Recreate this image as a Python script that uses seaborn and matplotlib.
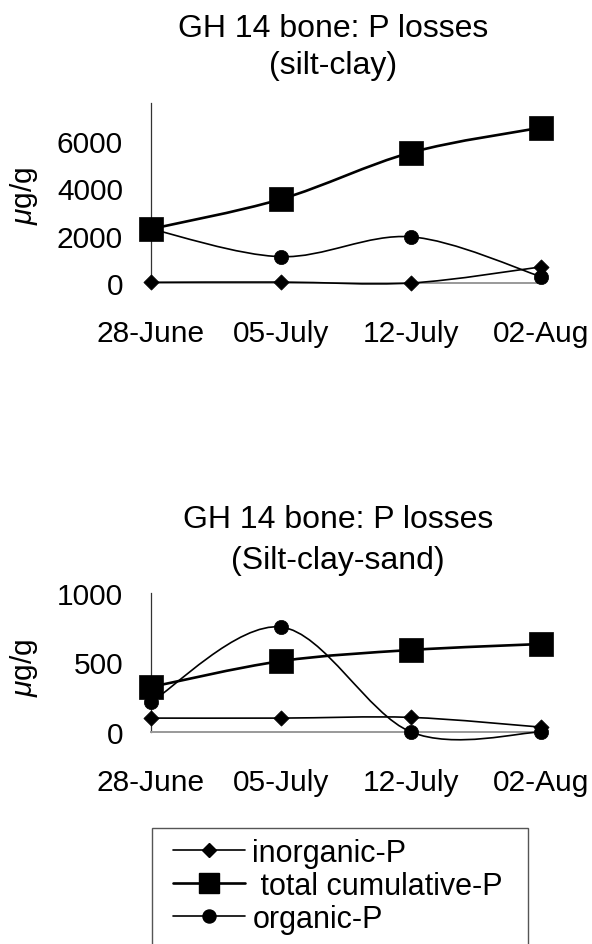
import numpy as np
import matplotlib
matplotlib.use("Agg")
import matplotlib.pyplot as plt
from matplotlib.path import Path
from matplotlib.patches import PathPatch, Rectangle
from matplotlib.lines import Line2D
import seaborn as sns

# ---------------- data ----------------
dates = ["28-June", "05-July", "12-July", "02-Aug"]
series_names = ["inorganic-P", " total cumulative-P", "organic-P"]

top_inorganic = [30, 40, 0, 680]
top_total = [2280, 3540, 5510, 6560]
top_organic = [2280, 1110, 1950, 270]

bot_inorganic = [100, 100, 105, 35]
bot_total = [324, 510, 590, 633]
bot_organic = [216, 755, 0, 0]

top_title = ["GH 14 bone: P losses", "(silt-clay)"]
bot_title = ["GH 14 bone: P losses", "(Silt-clay-sand)"]
top_yticks = [0, 2000, 4000, 6000]
bot_yticks = [0, 500, 1000]

# ---------------- style ----------------
sns.set_style("white")
plt.rcParams["font.family"] = ["Liberation Sans", "DejaVu Sans"]
plt.rcParams["mathtext.fontset"] = "custom"
plt.rcParams["mathtext.it"] = "Liberation Sans:italic"
plt.rcParams["mathtext.rm"] = "Liberation Sans"
plt.rcParams["text.color"] = "black"
plt.rcParams["xtick.color"] = "black"
plt.rcParams["ytick.color"] = "black"

FS = 21.5
FS_TITLE = 23
FS_LEG = 22
PX = 72 / 100.0  # points per pixel at dpi 100


def smooth_path(xs, ys):
    """Excel-like smoothed line: cubic Bezier segments through the data points."""
    pts = np.column_stack([xs, ys]).astype(float)
    n = len(pts)
    verts = [pts[0]]
    codes = [Path.MOVETO]
    for i in range(n - 1):
        p0 = pts[max(i - 1, 0)]
        p1 = pts[i]
        p2 = pts[i + 1]
        p3 = pts[min(i + 2, n - 1)]
        c1 = p1 + (p2 - p0) / 6.0
        c2 = p2 - (p3 - p1) / 6.0
        verts += [c1, c2, p2]
        codes += [Path.CURVE4] * 3
    return Path(verts, codes)


styles = [
    dict(marker="D", s=60, lw=1.2),
    dict(marker="s", s=275, lw=1.9),
    dict(marker="o", s=105, lw=1.2),
]

fig = plt.figure(figsize=(5.92, 9.45), dpi=100)
ax1 = fig.add_axes([151 / 592, 1 - 284 / 945, 390 / 592, 180 / 945])
ax2 = fig.add_axes([151 / 592, 1 - 733 / 945, 390 / 592, 139 / 945])

panels = [
    (ax1, [top_inorganic, top_total, top_organic], 7600, top_yticks),
    (ax2, [bot_inorganic, bot_total, bot_organic], 1000, bot_yticks),
]

for ax, data, ymax, yt in panels:
    x = np.arange(len(dates))
    for vals, st in zip(data, styles):
        patch = PathPatch(smooth_path(x, vals), facecolor="none", edgecolor="black",
                          lw=st["lw"], clip_on=False, zorder=3)
        ax.add_patch(patch)
        sns.scatterplot(x=x, y=vals, ax=ax, marker=st["marker"], s=st["s"],
                        color="black", edgecolor="black", linewidth=0.5,
                        clip_on=False, zorder=4, legend=False)
    ax.set_xlim(0, 3)
    ax.set_ylim(0, ymax)
    ax.set_xticks(x)
    ax.set_xticklabels(dates)
    ax.set_yticks(yt)
    ax.set_yticklabels([str(v) for v in yt])
    ax.set_xlabel("")
    ax.set_ylabel("")
    for sp in ["top", "right"]:
        ax.spines[sp].set_visible(False)
    ax.spines["left"].set_color("#333333")
    ax.spines["left"].set_linewidth(0.9)
    ax.spines["bottom"].set_color("#999999")
    ax.spines["bottom"].set_linewidth(1.4)
    ax.tick_params(axis="y", direction="inout", length=20 * PX, width=0.9,
                   color="#333333", pad=13, labelsize=FS, labelcolor="black")
    ax.tick_params(axis="x", direction="out", length=10 * PX, width=0.9,
                   color="#333333", pad=18.5, labelsize=FS, labelcolor="black")
    ax.set_facecolor("none")

# titles
fig.text(333 / 592, 1 - 37 / 945, top_title[0], ha="center", va="baseline", fontsize=FS_TITLE)
fig.text(333 / 592, 1 - 74 / 945, top_title[1], ha="center", va="baseline", fontsize=FS_TITLE)
fig.text(338 / 592, 1 - 528 / 945, bot_title[0], ha="center", va="baseline", fontsize=FS_TITLE)
fig.text(338 / 592, 1 - 569 / 945, bot_title[1], ha="center", va="baseline", fontsize=FS_TITLE)

# y labels
fig.text(24 / 592, 1 - 196 / 945, r"$\mu$g/g", rotation=90, ha="center", va="center", fontsize=FS)
fig.text(24 / 592, 1 - 668 / 945, r"$\mu$g/g", rotation=90, ha="center", va="center", fontsize=FS)

# legend
fig.patches.append(Rectangle((152 / 592, -0.05), 376 / 592, 0.05 + (1 - 829 / 945),
                             transform=fig.transFigure, facecolor="white",
                             edgecolor="#555555", lw=1.0, zorder=0))
handles = [
    Line2D([], [], color="black", lw=1.2, marker="D", markersize=6.8),
    Line2D([], [], color="black", lw=1.9, marker="s", markersize=14.4),
    Line2D([], [], color="black", lw=1.2, marker="o", markersize=9.4),
]
fig.legend(handles, series_names, loc="upper left",
           bbox_to_anchor=(173 / 592, 1 - 839 / 945), frameon=False,
           borderpad=0, borderaxespad=0, handlelength=2.35, handletextpad=0.25,
           labelspacing=0.1, fontsize=FS_LEG)

fig.savefig("out.png", dpi=100)
